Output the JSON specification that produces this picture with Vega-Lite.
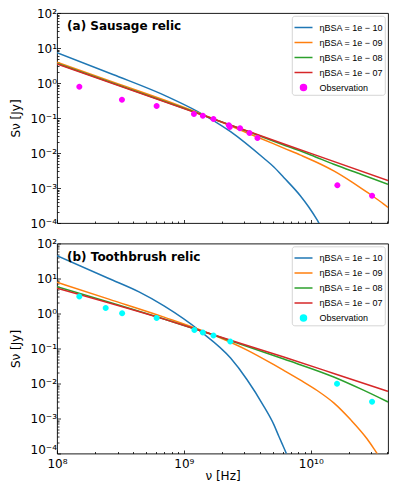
{
  "$schema": "https://vega.github.io/schema/vega-lite/v6.json",
  "padding": {"left": 8, "top": 6, "right": 5, "bottom": 5},
  "background": "white",
  "config": {
    "font": "DejaVu Sans",
    "view": {"stroke": "#000000", "strokeWidth": 0.9},
    "axis": {
      "grid": false,
      "domain": false,
      "tickColor": "#000000",
      "tickWidth": 0.8,
      "labelColor": "#000000",
      "labelFont": "DejaVu Sans",
      "labelFontSize": 12,
      "labelFlush": false,
      "labelPadding": 4,
      "titleFont": "DejaVu Sans",
      "titleFontSize": 12,
      "titleFontWeight": "normal",
      "titleColor": "#000000"
    },
    "legend": {
      "orient": "top-right",
      "offset": 3,
      "padding": 1.5,
      "fillColor": "rgba(255,255,255,0.8)",
      "strokeColor": "#cccccc",
      "strokeWidth": 0.8,
      "cornerRadius": 2.5,
      "labelFont": "Liberation Sans",
      "labelFontSize": 9,
      "labelColor": "#000000",
      "labelOffset": 6,
      "labelLimit": 200,
      "symbolSize": 324,
      "symbolStrokeWidth": 1.5,
      "symbolOpacity": 1,
      "rowPadding": -5.7
    }
  },
  "datasets": {
    "top_lines": [
      {"nu": 1e8, "S": 7.35, "series": "ηBSA = 1e − 10"},
      {"nu": 2.76e8, "S": 1.75, "series": "ηBSA = 1e − 10"},
      {"nu": 7.62e8, "S": 0.39, "series": "ηBSA = 1e − 10"},
      {"nu": 1.265e9, "S": 0.158, "series": "ηBSA = 1e − 10"},
      {"nu": 2.333e9, "S": 0.0407, "series": "ηBSA = 1e − 10"},
      {"nu": 4.266e9, "S": 0.00706, "series": "ηBSA = 1e − 10"},
      {"nu": 5.117e9, "S": 0.00398, "series": "ηBSA = 1e − 10"},
      {"nu": 6.124e9, "S": 0.002, "series": "ηBSA = 1e − 10"},
      {"nu": 8.299e9, "S": 0.000591, "series": "ηBSA = 1e − 10"},
      {"nu": 9.638e9, "S": 0.000286, "series": "ηBSA = 1e − 10"},
      {"nu": 1.122e10, "S": 0.000122, "series": "ηBSA = 1e − 10"},
      {"nu": 1.265e10, "S": 0.0000553, "series": "ηBSA = 1e − 10"},
      {"nu": 1e8, "S": 3.9, "series": "ηBSA = 1e − 09"},
      {"nu": 3.08e8, "S": 0.93, "series": "ηBSA = 1e − 09"},
      {"nu": 7.62e8, "S": 0.292, "series": "ηBSA = 1e − 09"},
      {"nu": 1.888e9, "S": 0.082, "series": "ηBSA = 1e − 09"},
      {"nu": 3.162e9, "S": 0.0373, "series": "ηBSA = 1e − 09"},
      {"nu": 5.117e9, "S": 0.0182, "series": "ηBSA = 1e − 09"},
      {"nu": 6.124e9, "S": 0.0138, "series": "ηBSA = 1e − 09"},
      {"nu": 8.299e9, "S": 0.00871, "series": "ηBSA = 1e − 09"},
      {"nu": 1.122e10, "S": 0.00537, "series": "ηBSA = 1e − 09"},
      {"nu": 1.517e10, "S": 0.00309, "series": "ηBSA = 1e − 09"},
      {"nu": 2.056e10, "S": 0.00158, "series": "ηBSA = 1e − 09"},
      {"nu": 2.773e10, "S": 0.000759, "series": "ηBSA = 1e − 09"},
      {"nu": 3.758e10, "S": 0.000347, "series": "ηBSA = 1e − 09"},
      {"nu": 4.06e10, "S": 0.000279, "series": "ηBSA = 1e − 09"},
      {"nu": 1e8, "S": 3.62, "series": "ηBSA = 1e − 08"},
      {"nu": 1e9, "S": 0.19, "series": "ηBSA = 1e − 08"},
      {"nu": 3.162e9, "S": 0.0417, "series": "ηBSA = 1e − 08"},
      {"nu": 6.124e9, "S": 0.0169, "series": "ηBSA = 1e − 08"},
      {"nu": 1e10, "S": 0.0088, "series": "ηBSA = 1e − 08"},
      {"nu": 1.517e10, "S": 0.00475, "series": "ηBSA = 1e − 08"},
      {"nu": 2.512e10, "S": 0.00243, "series": "ηBSA = 1e − 08"},
      {"nu": 4.06e10, "S": 0.00128, "series": "ηBSA = 1e − 08"},
      {"nu": 1e8, "S": 3.49, "series": "ηBSA = 1e − 07"},
      {"nu": 1e9, "S": 0.185, "series": "ηBSA = 1e − 07"},
      {"nu": 3.162e9, "S": 0.0424, "series": "ηBSA = 1e − 07"},
      {"nu": 1e10, "S": 0.00975, "series": "ηBSA = 1e − 07"},
      {"nu": 4.06e10, "S": 0.00163, "series": "ηBSA = 1e − 07"}
    ],
    "top_obs": [
      {"nu": 1.5e8, "S": 0.78, "series": "Observation"},
      {"nu": 3.25e8, "S": 0.33, "series": "Observation"},
      {"nu": 6.1e8, "S": 0.22, "series": "Observation"},
      {"nu": 1.2e9, "S": 0.13, "series": "Observation"},
      {"nu": 1.41e9, "S": 0.116, "series": "Observation"},
      {"nu": 1.71e9, "S": 0.094, "series": "Observation"},
      {"nu": 2.26e9, "S": 0.062, "series": "Observation"},
      {"nu": 2.3e9, "S": 0.055, "series": "Observation"},
      {"nu": 2.77e9, "S": 0.051, "series": "Observation"},
      {"nu": 3.29e9, "S": 0.037, "series": "Observation"},
      {"nu": 3.8e9, "S": 0.027, "series": "Observation"},
      {"nu": 1.62e10, "S": 0.0012, "series": "Observation"},
      {"nu": 3.04e10, "S": 0.0006, "series": "Observation"}
    ],
    "bottom_lines": [
      {"nu": 1e8, "S": 44.9, "series": "ηBSA = 1e − 10"},
      {"nu": 2.56e8, "S": 10.0, "series": "ηBSA = 1e − 10"},
      {"nu": 4.43e8, "S": 4.14, "series": "ηBSA = 1e − 10"},
      {"nu": 6.97e8, "S": 1.65, "series": "ηBSA = 1e − 10"},
      {"nu": 1.355e9, "S": 0.306, "series": "ηBSA = 1e − 10"},
      {"nu": 2.333e9, "S": 0.0533, "series": "ηBSA = 1e − 10"},
      {"nu": 3.148e9, "S": 0.01284, "series": "ηBSA = 1e − 10"},
      {"nu": 4.266e9, "S": 0.00223, "series": "ηBSA = 1e − 10"},
      {"nu": 5.117e9, "S": 0.00067, "series": "ηBSA = 1e − 10"},
      {"nu": 5.598e9, "S": 0.000311, "series": "ηBSA = 1e − 10"},
      {"nu": 6.124e9, "S": 0.000148, "series": "ηBSA = 1e − 10"},
      {"nu": 6.839e9, "S": 0.000059, "series": "ηBSA = 1e − 10"},
      {"nu": 1e8, "S": 7.83, "series": "ηBSA = 1e − 09"},
      {"nu": 2.56e8, "S": 2.57, "series": "ηBSA = 1e − 09"},
      {"nu": 6.97e8, "S": 0.787, "series": "ηBSA = 1e − 09"},
      {"nu": 1.888e9, "S": 0.209, "series": "ηBSA = 1e − 09"},
      {"nu": 3.148e9, "S": 0.09, "series": "ηBSA = 1e − 09"},
      {"nu": 5.117e9, "S": 0.0344, "series": "ηBSA = 1e − 09"},
      {"nu": 6.124e9, "S": 0.0237, "series": "ηBSA = 1e − 09"},
      {"nu": 8.299e9, "S": 0.01245, "series": "ηBSA = 1e − 09"},
      {"nu": 1.122e10, "S": 0.00631, "series": "ηBSA = 1e − 09"},
      {"nu": 1.517e10, "S": 0.00279, "series": "ηBSA = 1e − 09"},
      {"nu": 2.056e10, "S": 0.00093, "series": "ηBSA = 1e − 09"},
      {"nu": 2.773e10, "S": 0.000263, "series": "ηBSA = 1e − 09"},
      {"nu": 3.236e10, "S": 0.0001175, "series": "ηBSA = 1e − 09"},
      {"nu": 3.758e10, "S": 0.0000525, "series": "ηBSA = 1e − 09"},
      {"nu": 1e8, "S": 5.87, "series": "ηBSA = 1e − 08"},
      {"nu": 6.97e8, "S": 0.7, "series": "ηBSA = 1e − 08"},
      {"nu": 1.888e9, "S": 0.216, "series": "ηBSA = 1e − 08"},
      {"nu": 6.124e9, "S": 0.05, "series": "ηBSA = 1e − 08"},
      {"nu": 1.517e10, "S": 0.01535, "series": "ηBSA = 1e − 08"},
      {"nu": 2.5e10, "S": 0.00689, "series": "ηBSA = 1e − 08"},
      {"nu": 4.06e10, "S": 0.00297, "series": "ηBSA = 1e − 08"},
      {"nu": 1e8, "S": 5.28, "series": "ηBSA = 1e − 07"},
      {"nu": 6.97e8, "S": 0.69, "series": "ηBSA = 1e − 07"},
      {"nu": 1.888e9, "S": 0.22, "series": "ηBSA = 1e − 07"},
      {"nu": 6.124e9, "S": 0.057, "series": "ηBSA = 1e − 07"},
      {"nu": 1.517e10, "S": 0.0194, "series": "ηBSA = 1e − 07"},
      {"nu": 4.06e10, "S": 0.00596, "series": "ηBSA = 1e − 07"}
    ],
    "bottom_obs": [
      {"nu": 1.5e8, "S": 3.04, "series": "Observation"},
      {"nu": 2.42e8, "S": 1.43, "series": "Observation"},
      {"nu": 3.26e8, "S": 1.02, "series": "Observation"},
      {"nu": 6.1e8, "S": 0.74, "series": "Observation"},
      {"nu": 1.21e9, "S": 0.336, "series": "Observation"},
      {"nu": 1.41e9, "S": 0.287, "series": "Observation"},
      {"nu": 1.71e9, "S": 0.235, "series": "Observation"},
      {"nu": 2.32e9, "S": 0.159, "series": "Observation"},
      {"nu": 1.61e10, "S": 0.0099, "series": "Observation"},
      {"nu": 3.04e10, "S": 0.003, "series": "Observation"}
    ]
  },
  "spacing": 6.5,
  "resolve": {
    "scale": {"color": "independent", "shape": "independent"},
    "legend": {"color": "independent", "shape": "independent"}
  },
  "vconcat": [
    {
      "width": 331,
      "height": 210,
      "layer": [
        {
          "data": {"name": "top_lines"},
          "mark": {"type": "line", "strokeWidth": 1.5, "clip": true, "interpolate": "monotone"},
          "encoding": {
            "x": {"field": "nu", "type": "quantitative",
              "scale": {"type": "log", "domain": [1e8, 4.06e10], "nice": false},
              "axis": {"title": null, "labels": false,
                "values": [1e8,2e8,3e8,4e8,5e8,6e8,7e8,8e8,9e8,1e9,2e9,3e9,4e9,5e9,6e9,7e9,8e9,9e9,1e10,2e10,3e10,4e10],
                "tickSize": {"condition": {"test": "abs(log(datum.value)/LN10 - round(log(datum.value)/LN10)) < 0.001", "value": -3.5}, "value": -2}}},
            "y": {"field": "S", "type": "quantitative",
              "scale": {"type": "log", "domain": [0.0001, 100], "nice": false},
              "axis": {"title": "Sν [Jy]", "titlePadding": 8,
                "values": [0.0001,0.0002,0.0003,0.0004,0.0005,0.0006,0.0007,0.0008,0.0009,0.001,0.002,0.003,0.004,0.005,0.006,0.007,0.008,0.009,0.01,0.02,0.03,0.04,0.05,0.06,0.07,0.08,0.09,0.1,0.2,0.3,0.4,0.5,0.6,0.7,0.8,0.9,1,2,3,4,5,6,7,8,9,10,20,30,40,50,60,70,80,90,100],
                "labelExpr": "abs(log(datum.value)/LN10 - round(log(datum.value)/LN10)) < 0.001 ? ['10⁻⁴','10⁻³','10⁻²','10⁻¹','10⁰','10¹','10²'][round(log(datum.value)/LN10)+4] : ''",
                "tickSize": {"condition": {"test": "abs(log(datum.value)/LN10 - round(log(datum.value)/LN10)) < 0.001", "value": -3.5}, "value": -2}}},
            "color": {"field": "series", "type": "nominal", "title": null,
              "scale": {"domain": ["ηBSA = 1e − 10", "ηBSA = 1e − 09", "ηBSA = 1e − 08", "ηBSA = 1e − 07", "Observation"],
                "range": ["#1f77b4", "#ff7f0e", "#2ca02c", "#d62728", "#ff00ff"]}},
            "shape": {"field": "series", "type": "nominal", "title": null,
              "scale": {"domain": ["ηBSA = 1e − 10", "ηBSA = 1e − 09", "ηBSA = 1e − 08", "ηBSA = 1e − 07", "Observation"],
                "range": ["stroke", "stroke", "stroke", "stroke", "M0.333,0A0.333,0.333,0,1,1,-0.333,0A0.333,0.333,0,1,1,0.333,0Z"]}}
          }
        },
        {
          "data": {"name": "top_obs"},
          "mark": {"type": "point", "filled": true, "size": 324, "opacity": 1},
          "encoding": {
            "x": {"field": "nu", "type": "quantitative"},
            "y": {"field": "S", "type": "quantitative"},
            "color": {"field": "series", "type": "nominal", "title": null},
            "shape": {"field": "series", "type": "nominal", "title": null}
          }
        },
        {
          "data": {"values": [{"t": "(a) Sausage relic"}]},
          "mark": {"type": "text", "align": "left", "baseline": "alphabetic", "fontSize": 12, "fontWeight": "bold", "font": "DejaVu Sans", "color": "#000000"},
          "encoding": {
            "x": {"datum": 1.2e8, "type": "quantitative"},
            "y": {"datum": 32.7, "type": "quantitative"},
            "text": {"field": "t"}
          }
        }
      ]
    },
    {
      "width": 331,
      "height": 210,
      "layer": [
        {
          "data": {"name": "bottom_lines"},
          "mark": {"type": "line", "strokeWidth": 1.5, "clip": true, "interpolate": "monotone"},
          "encoding": {
            "x": {"field": "nu", "type": "quantitative",
              "scale": {"type": "log", "domain": [1e8, 4.06e10], "nice": false},
              "axis": {"title": "ν [Hz]", "titlePadding": 1, "labelPadding": 8,
                "values": [1e8,2e8,3e8,4e8,5e8,6e8,7e8,8e8,9e8,1e9,2e9,3e9,4e9,5e9,6e9,7e9,8e9,9e9,1e10,2e10,3e10,4e10],
                "labelExpr": "abs(log(datum.value)/LN10 - round(log(datum.value)/LN10)) < 0.001 ? ['10⁸','10⁹','10¹⁰'][round(log(datum.value)/LN10)-8] : ''",
                "tickSize": {"condition": {"test": "abs(log(datum.value)/LN10 - round(log(datum.value)/LN10)) < 0.001", "value": -3.5}, "value": -2}}},
            "y": {"field": "S", "type": "quantitative",
              "scale": {"type": "log", "domain": [0.0001, 100], "nice": false},
              "axis": {"title": "Sν [Jy]", "titlePadding": 8,
                "values": [0.0001,0.0002,0.0003,0.0004,0.0005,0.0006,0.0007,0.0008,0.0009,0.001,0.002,0.003,0.004,0.005,0.006,0.007,0.008,0.009,0.01,0.02,0.03,0.04,0.05,0.06,0.07,0.08,0.09,0.1,0.2,0.3,0.4,0.5,0.6,0.7,0.8,0.9,1,2,3,4,5,6,7,8,9,10,20,30,40,50,60,70,80,90,100],
                "labelExpr": "abs(log(datum.value)/LN10 - round(log(datum.value)/LN10)) < 0.001 ? ['10⁻⁴','10⁻³','10⁻²','10⁻¹','10⁰','10¹','10²'][round(log(datum.value)/LN10)+4] : ''",
                "labelOffset": {"condition": {"test": "datum.value < 0.00011", "value": -4}, "value": 0},
                "tickSize": {"condition": {"test": "abs(log(datum.value)/LN10 - round(log(datum.value)/LN10)) < 0.001", "value": -3.5}, "value": -2}}},
            "color": {"field": "series", "type": "nominal", "title": null,
              "scale": {"domain": ["ηBSA = 1e − 10", "ηBSA = 1e − 09", "ηBSA = 1e − 08", "ηBSA = 1e − 07", "Observation"],
                "range": ["#1f77b4", "#ff7f0e", "#2ca02c", "#d62728", "#00ffff"]}},
            "shape": {"field": "series", "type": "nominal", "title": null,
              "scale": {"domain": ["ηBSA = 1e − 10", "ηBSA = 1e − 09", "ηBSA = 1e − 08", "ηBSA = 1e − 07", "Observation"],
                "range": ["stroke", "stroke", "stroke", "stroke", "M0.333,0A0.333,0.333,0,1,1,-0.333,0A0.333,0.333,0,1,1,0.333,0Z"]}}
          }
        },
        {
          "data": {"name": "bottom_obs"},
          "mark": {"type": "point", "filled": true, "size": 324, "opacity": 1},
          "encoding": {
            "x": {"field": "nu", "type": "quantitative"},
            "y": {"field": "S", "type": "quantitative"},
            "color": {"field": "series", "type": "nominal", "title": null},
            "shape": {"field": "series", "type": "nominal", "title": null}
          }
        },
        {
          "data": {"values": [{"t": "(b) Toothbrush relic"}]},
          "mark": {"type": "text", "align": "left", "baseline": "alphabetic", "fontSize": 12, "fontWeight": "bold", "font": "DejaVu Sans", "color": "#000000"},
          "encoding": {
            "x": {"datum": 1.2e8, "type": "quantitative"},
            "y": {"datum": 31.6, "type": "quantitative"},
            "text": {"field": "t"}
          }
        }
      ]
    }
  ]
}
